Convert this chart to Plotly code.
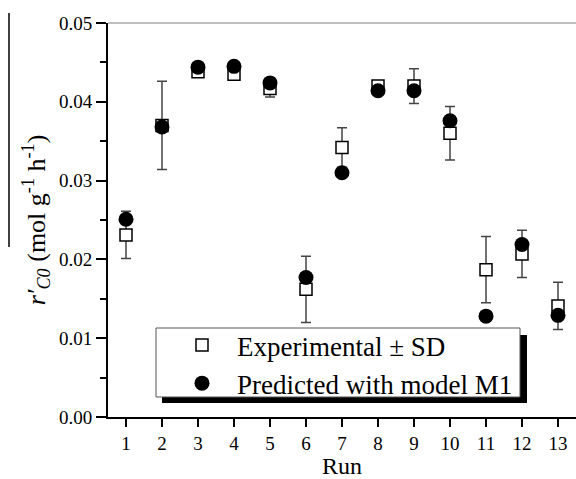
import plotly.graph_objects as go

# Initial reaction rate per run: experimental mean, standard deviation, model prediction
runs = list(range(1, 14))
exp_rate = [0.0231, 0.0370, 0.0438, 0.0435, 0.0417, 0.0162, 0.0342,
            0.0420, 0.0420, 0.0360, 0.0187, 0.0207, 0.0141]
exp_sd = [0.0030, 0.0056, 0.0003, 0.0003, 0.0011, 0.0042, 0.0025,
          0.0004, 0.0022, 0.0034, 0.0042, 0.0030, 0.0030]
pred_rate = [0.0251, 0.0368, 0.0444, 0.0445, 0.0424, 0.0177, 0.0310,
             0.0414, 0.0414, 0.0376, 0.0128, 0.0219, 0.0129]
y_ticks = [0.00, 0.01, 0.02, 0.03, 0.04, 0.05]

W, H = 576, 479
ML, MR, MT, MB = 108, 0, 23, 62
PW, PH = W - ML - MR, H - MT - MB
FONT = "Liberation Serif, Times New Roman, serif"


def px(x):
    return (x - ML) / PW


def py(y):
    return (H - MB - y) / PH


fig = go.Figure()

fig.add_trace(go.Scatter(
    x=runs, y=exp_rate, mode="markers", name="Experimental ± SD",
    marker=dict(symbol="square", size=12, color="white",
                line=dict(color="black", width=1.5)),
    error_y=dict(type="data", array=exp_sd, visible=True,
                 color="#444444", thickness=1.5, width=5),
))
fig.add_trace(go.Scatter(
    x=runs, y=pred_rate, mode="markers", name="Predicted with model M1",
    marker=dict(symbol="circle", size=15, color="black"),
))

shapes = [
    # thin grey frame line along the top of the plot
    dict(type="line", xref="paper", yref="paper", x0=0, x1=1, y0=1, y1=1,
         line=dict(color="#aaaaaa", width=1.5)),
    # overline bar of the y-axis quantity
    dict(type="line", xref="paper", yref="paper", x0=px(9), x1=px(9),
         y0=py(13), y1=py(247), line=dict(color="black", width=1.5)),
    # legend drop shadow and box
    dict(type="rect", xref="paper", yref="paper", layer="above",
         x0=px(162), x1=px(527), y0=py(403), y1=py(335),
         fillcolor="black", line=dict(width=0)),
    dict(type="rect", xref="paper", yref="paper", layer="above",
         x0=px(156), x1=px(520), y0=py(397), y1=py(328),
         fillcolor="white", line=dict(color="#555555", width=1)),
]

fig.update_layout(
    width=W, height=H,
    margin=dict(l=ML, r=MR, t=MT, b=MB),
    paper_bgcolor="white", plot_bgcolor="white",
    font=dict(family=FONT, color="black", size=19),
    shapes=shapes,
    showlegend=True,
    legend=dict(
        x=px(167), y=py(321), xanchor="left", yanchor="top",
        bgcolor="rgba(0,0,0,0)", borderwidth=0,
        font=dict(family=FONT, size=27, color="black"),
        itemwidth=60, tracegroupgap=0,
    ),
    xaxis=dict(
        range=[0.5, 13.5], tickvals=runs, ticks="outside", ticklen=8,
        tickwidth=2, tickcolor="black", showline=True, linewidth=2,
        linecolor="black", showgrid=False, zeroline=False,
        tickfont=dict(size=19),
        title=dict(text="Run", font=dict(size=24), standoff=8),
    ),
    yaxis=dict(
        range=[0, 0.05], tickvals=y_ticks, tickformat=".2f",
        ticks="outside", ticklen=10, tickwidth=2, tickcolor="black",
        showline=True, linewidth=2, linecolor="black",
        showgrid=False, zeroline=False, tickfont=dict(size=19),
        minor=dict(dtick=0.005, ticks="outside", ticklen=6, tickwidth=2,
                   tickcolor="black", showgrid=False),
        title=dict(
            text="<i>r′</i><sub><i>C0</i></sub> (mol g<sup>-1</sup> h<sup>-1</sup>)",
            font=dict(size=26), standoff=6),
    ),
)

fig.write_html("out.html")
